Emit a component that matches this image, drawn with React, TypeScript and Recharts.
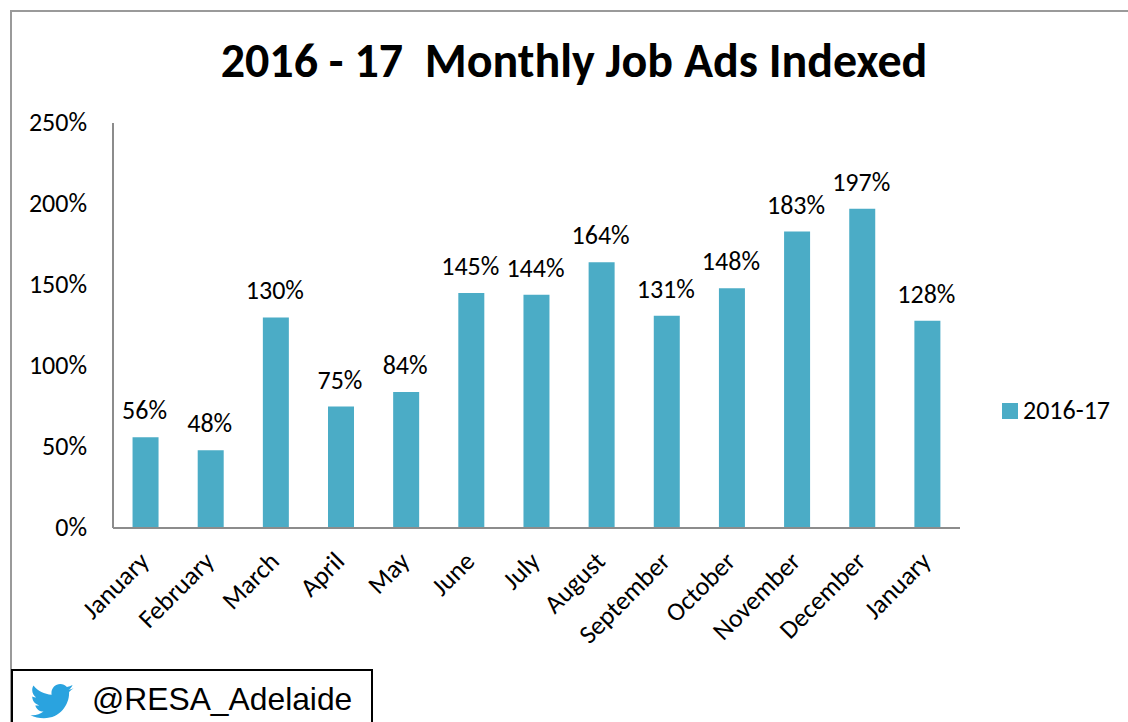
import React from "react";
import { BarChart, Bar, XAxis, YAxis, LabelList } from "recharts";

const categories = ["January","February","March","April","May","June","July","August","September","October","November","December","January "];
const values = [56,48,130,75,84,145,144,164,131,148,183,197,128];
const yTicks = [0,50,100,150,200,250];
const data = categories.map((name,i)=>({name,value:values[i]}));
const font = "Carlito, Calibri, 'Open Sans', 'Noto Sans', sans-serif";
const XTick = (p:any)=>(
  <text x={p.x-5} y={p.y+17} textAnchor="end" fontSize={26} fontFamily={font} fill="#000" transform={`rotate(-45 ${p.x-5} ${p.y+17})`} dy={14}>{String(p.payload.value).trim()}</text>
);
export default function App(){
  return (
    <div style={{position:"absolute",left:0,top:0,width:1128,height:722,overflow:"hidden",background:"#fff"}}>
      <div style={{position:"absolute",left:10,top:10,width:1118,height:712,borderLeft:"2px solid #9a9a9a",borderTop:"2px solid #9a9a9a",boxSizing:"border-box"}}/>
      <div style={{position:"absolute",left:0,top:35,width:1148,textAlign:"center",fontFamily:font,fontWeight:700,fontSize:48,lineHeight:"52px",whiteSpace:"pre"}}>2016 - 17  Monthly Job Ads Indexed</div>
      <div style={{position:"absolute",left:0,top:0}}>
        <BarChart width={1000} height={722} data={data} barCategoryGap="30%" margin={{top:123,right:40,bottom:193,left:112}}>
          <XAxis dataKey="name" interval={0} tick={<XTick/>} tickLine={false} axisLine={{stroke:"#8c8c8c",strokeWidth:2}} height={1}/>
          <YAxis domain={[0,250]} ticks={yTicks} width={1} tickMargin={20} tickFormatter={(v:number)=>`${v}%`} tick={{fontSize:26,fontFamily:font,fill:"#000",dy:-1}} tickLine={false} axisLine={{stroke:"#8c8c8c",strokeWidth:2}}/>
          <Bar dataKey="value" fill="#4BACC6" isAnimationActive={false}>
            <LabelList dataKey="value" position="top" offset={18} dx={-1} formatter={(v:number)=>`${v}%`} style={{fontSize:26,fontFamily:font,fill:"#000"}}/>
          </Bar>
        </BarChart>
      </div>
      <div style={{position:"absolute",left:1002,top:403,width:16,height:16,background:"#4BACC6"}}/>
      <div style={{position:"absolute",left:1023,top:396,fontFamily:font,fontSize:26,lineHeight:"28px"}}>2016-17</div>
      <div style={{position:"absolute",left:11,top:669,width:362,height:60,border:"2px solid #000",boxSizing:"border-box",background:"#fff"}}/>
      <svg style={{position:"absolute",left:30,top:684}} width={44} height={36} viewBox="0 0 24 20"><path fill="#2AA3DF" d="M24 2.400c-.9.400-1.800.7-2.800.8 1-.6 1.800-1.600 2.200-2.700-1 .6-2 1-3.100 1.200C19.300.7 18 0 16.600 0c-2.700 0-4.900 2.200-4.900 4.900 0 .4 0 .8.100 1.100C7.700 5.800 4.100 3.900 1.700.9c-.4.700-.7 1.600-.7 2.500 0 1.700.9 3.200 2.200 4.100-.8 0-1.600-.2-2.200-.6v.1c0 2.400 1.700 4.400 3.900 4.800-.4.100-.8.200-1.300.2-.3 0-.6 0-.9-.1.600 2 2.400 3.400 4.600 3.400-1.700 1.300-3.800 2.100-6.100 2.100-.4 0-.8 0-1.200-.1C2.200 18.200 4.800 19 7.500 19c9.100 0 14-7.500 14-14v-.6c1-.7 1.800-1.600 2.500-2z"/></svg>
      <div style={{position:"absolute",left:92,top:680,fontFamily:"'Liberation Sans', Arial, sans-serif",fontSize:31.8,lineHeight:"38px"}}>@RESA_Adelaide</div>
    </div>
  );
}
